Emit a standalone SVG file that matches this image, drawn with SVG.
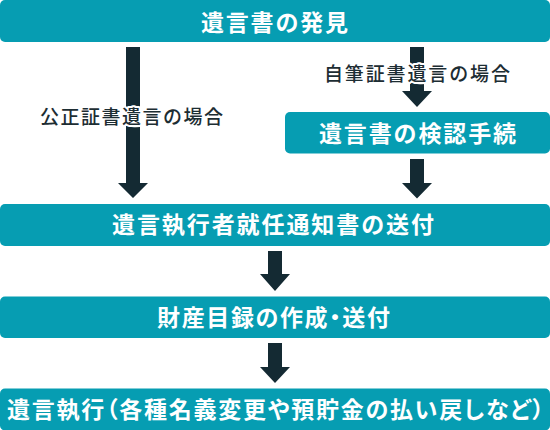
<svg xmlns="http://www.w3.org/2000/svg" width="550" height="430" viewBox="0 0 550 430">
  <style>
    .box { fill: #069db2; }
    .btxt { fill: #ffffff; font-family: "Noto Sans CJK JP", "Noto Sans CJK SC", sans-serif; font-size: 23px; font-weight: 700; }
    .arrow { fill: #142a33; }
    .lbl { fill: #1d2d33; font-family: "Noto Sans CJK JP", "Noto Sans CJK SC", sans-serif; font-size: 19px; font-weight: 500; stroke: #ffffff; stroke-width: 4px; stroke-linejoin: round; paint-order: stroke fill; }
    .palt { font-feature-settings: "palt"; }
  </style>
  <rect width="550" height="430" fill="#ffffff"/>
  <g id="connectors">
    <path class="arrow" d="M126,47 H140 V183 H148 L133,198 L118,183 H126 Z"/>
    <path class="arrow" d="M410,47 H424 V91 H432 L417,107 L402,91 H410 Z"/>
    <path class="arrow" d="M410,159 H424 V183 H432 L417,198.5 L402,183 H410 Z"/>
    <path class="arrow" d="M268,251 H282 V274 H290 L275,291 L260,274 H268 Z"/>
    <path class="arrow" d="M268,343 H282 V367 H290 L275,383 L260,367 H268 Z"/>
    <text class="lbl" x="40" y="123.5" textLength="183" lengthAdjust="spacing">公正証書遺言の場合</text>
    <text class="lbl" x="324" y="80.5" textLength="186" lengthAdjust="spacing">自筆証書遺言の場合</text>
  </g>
  <g id="node-discovery">
    <rect class="box" x="0" y="0" width="550" height="42" rx="5"/>
    <text class="btxt" x="201" y="30.8" textLength="147" lengthAdjust="spacing">遺言書の発見</text>
  </g>
  <g id="node-probate">
    <rect class="box" x="285" y="112" width="265" height="41.5" rx="5"/>
    <text class="btxt" x="319" y="141.8" textLength="197" lengthAdjust="spacing">遺言書の検認手続</text>
  </g>
  <g id="node-notice">
    <rect class="box" x="0" y="204" width="550" height="42" rx="5"/>
    <text class="btxt" x="112" y="233.3" textLength="322" lengthAdjust="spacing">遺言執行者就任通知書の送付</text>
  </g>
  <g id="node-inventory">
    <rect class="box" x="0" y="296.5" width="550" height="41.5" rx="5"/>
    <text class="btxt palt" x="157" y="326.3" textLength="233" lengthAdjust="spacing">財産目録の作成・送付</text>
  </g>
  <g id="node-execution">
    <rect class="box" x="0" y="388.5" width="550" height="42" rx="5"/>
    <text class="btxt palt" x="7" y="418.3" textLength="537" lengthAdjust="spacing">遺言執行（各種名義変更や預貯金の払い戻しなど）</text>
  </g>
</svg>
